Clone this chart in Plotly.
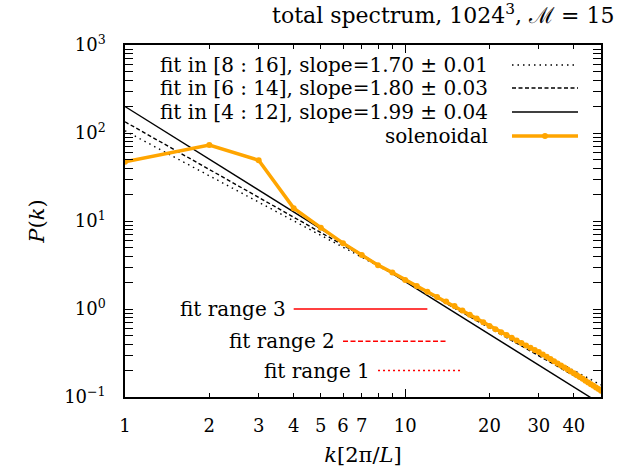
import numpy as np
import plotly.graph_objects as go

# ---- data ----
k = list(range(1, 51))
P_sol = [47, 73, 49, 14.0, 8.4, 5.6, 4.1, 3.15, 2.6, 2.14,
         1.82, 1.57, 1.37, 1.22, 1.08, 0.962, 0.863, 0.778, 0.705, 0.643,
         0.589, 0.544, 0.506, 0.471, 0.440, 0.411, 0.386, 0.363, 0.343, 0.324,
         0.304, 0.286, 0.270, 0.255, 0.241, 0.228, 0.216, 0.206, 0.195, 0.186,
         0.177, 0.169, 0.161, 0.153, 0.146, 0.140, 0.134, 0.128, 0.123, 0.118]

fit_ranges = [[8, 16], [6, 14], [4, 12]]
fit_slopes = [1.70, 1.80, 1.99]
fit_errors = [0.01, 0.03, 0.04]
fit_amps = [106.0, 134.0, 200.0]
range_labels = ["fit range 1", "fit range 2", "fit range 3"]
range_y = [0.2, 0.43, 1.0]

x_ticks = [1, 2, 3, 4, 5, 6, 7, 10, 20, 30, 40]
x_minor = [8, 9, 50]
y_ticks = [0.1, 1, 10, 100, 1000]
y_ticklabels = ["10<sup>−1</sup>", "10<sup>0</sup>", "10<sup>1</sup>", "10<sup>2</sup>", "10<sup>3</sup>"]
y_minor = [m * 10.0 ** e for e in range(-1, 3) for m in range(2, 10)]

FONT = "DejaVu Serif, serif"
FS = 18
FL = 20
ORANGE = "#FFA500"

fig = go.Figure()

line_dash = ["1.5px,4px", "4px,2.5px", "solid"]
kx = np.array([1.0, 50.0])
for A, s, d in zip(fit_amps, fit_slopes, line_dash):
    fig.add_trace(go.Scatter(x=kx, y=A * kx ** (-s), mode="lines",
                             line=dict(color="black", width=1.4, dash=d),
                             showlegend=False, hoverinfo="skip"))

fig.add_trace(go.Scatter(x=k, y=P_sol, mode="lines+markers",
                         line=dict(color=ORANGE, width=3.5),
                         marker=dict(color=ORANGE, size=6, symbol="circle"),
                         showlegend=False))

red_dash = ["2px,3px", "5px,2.5px", "solid"]
for (a, b), yv, lab, d in zip(fit_ranges, range_y, range_labels, red_dash):
    fig.add_trace(go.Scatter(x=[a, b], y=[yv, yv], mode="lines",
                             line=dict(color="red", width=1.4, dash=d),
                             showlegend=False, hoverinfo="skip"))
    fig.add_annotation(x=np.log10(a), y=np.log10(yv), text=lab, showarrow=False,
                       xanchor="right", yanchor="middle", xshift=-6,
                       font=dict(family=FONT, size=FL, color="black"))

# ---- custom legend (text left of sample, as in gnuplot) ----
W, H = 476.0, 352.0
def px(x):
    return (x - 125) / W
def py(y):
    return (397 - y) / H

rows = [65, 88, 112, 136]
labels = [f"fit in [{a} : {b}], slope={s:.2f} ± {e:.2f}"
          for (a, b), s, e in zip(fit_ranges, fit_slopes, fit_errors)] + ["solenoidal"]
for r, lab in zip(rows, labels):
    fig.add_annotation(x=px(490), y=py(r), xref="paper", yref="paper", text=lab,
                       showarrow=False, xanchor="right", yanchor="middle",
                       font=dict(family=FONT, size=FL, color="black"))
for r, d in zip(rows[:3], line_dash):
    fig.add_shape(type="line", xref="paper", yref="paper", x0=px(512), x1=px(578),
                  y0=py(r), y1=py(r), line=dict(color="black", width=1.4, dash=d))
fig.add_shape(type="line", xref="paper", yref="paper", x0=px(512), x1=px(578),
              y0=py(rows[3]), y1=py(rows[3]), line=dict(color=ORANGE, width=3.5))
fig.add_shape(type="circle", xref="paper", yref="paper", x0=px(542), x1=px(548),
              y0=py(rows[3] - 3), y1=py(rows[3] + 3), fillcolor=ORANGE,
              line=dict(color=ORANGE, width=0))

fig.update_layout(
    width=627, height=474,
    margin=dict(l=125, r=26, t=45, b=77),
    paper_bgcolor="white", plot_bgcolor="white",
    font=dict(family=FONT, size=FS, color="black"),
    title=dict(text="total spectrum, 1024<sup>3</sup>, ℳ = 15", x=0.98, xanchor="right",
               y=0.968, yanchor="middle", font=dict(family=FONT, size=22)),
    showlegend=False,
    xaxis=dict(type="log", range=[0, np.log10(50)], tickvals=x_ticks,
               ticktext=[str(t) for t in x_ticks], ticks="inside", ticklen=4,
               tickcolor="black", tickwidth=1, showgrid=False, zeroline=False,
               showline=True, linecolor="black", linewidth=1.5, mirror="allticks",
               ticklabelstandoff=12,
               minor=dict(tickvals=x_minor, ticks="inside", ticklen=4, tickcolor="black",
                          showgrid=False),
               title=dict(text="<i>k</i>[2π/<i>L</i>]", standoff=12,
                          font=dict(family=FONT, size=21))),
    xaxis2=dict(type="log", range=[0, np.log10(50)], overlaying="x", tickvals=[1, 10],
                showticklabels=False, ticks="inside", ticklen=8, tickcolor="black",
                showgrid=False, zeroline=False, showline=False, mirror="allticks",
                matches="x"),
    yaxis=dict(type="log", range=[-1, 3], tickvals=y_ticks, ticktext=y_ticklabels,
               ticks="inside", ticklen=8, tickcolor="black", showgrid=False,
               zeroline=False, showline=True, linecolor="black", linewidth=1.5,
               mirror="allticks", ticklabelstandoff=14,
               minor=dict(tickvals=y_minor, ticks="inside", ticklen=4, tickcolor="black",
                          showgrid=False),
               title=dict(text="<i>P</i>(<i>k</i>)", standoff=14,
                          font=dict(family=FONT, size=21))),
)
fig.add_trace(go.Scatter(x=[1, 50], y=[1, 1], xaxis="x2", mode="none",
                         showlegend=False, hoverinfo="skip"))

fig.write_html("out.html")
